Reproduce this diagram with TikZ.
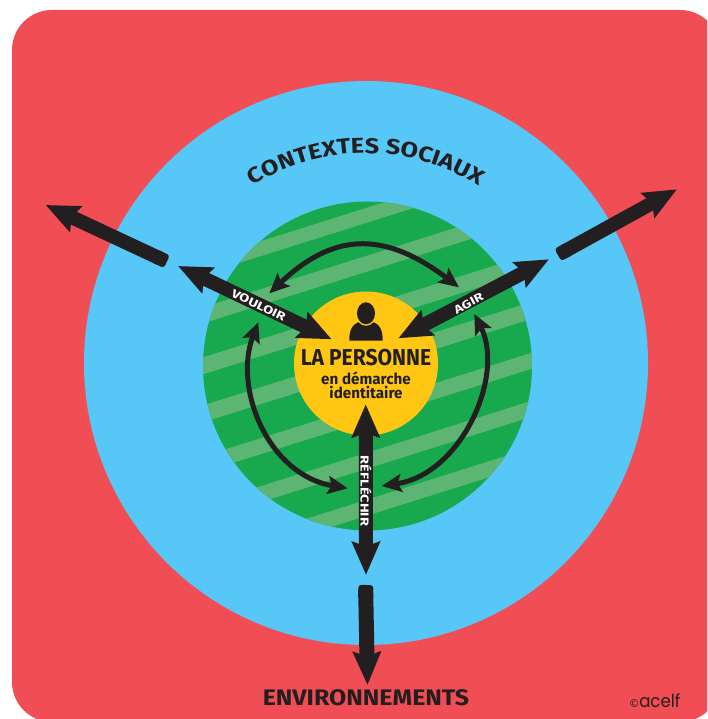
\documentclass[tikz,border=0pt]{standalone}
\usepackage{fontspec}
\setmainfont{Fira Sans}
\newfontfamily\persfont[FakeStretch=0.915]{Fira Sans}
\newfontfamily\armfont[FakeStretch=1.27]{Fira Sans}
\newfontfamily\titlefont[FakeStretch=1.11]{Fira Sans}
\newfontfamily\ctxfont[FakeStretch=1.18]{Fira Sans}
\newfontfamily\logofont[FakeStretch=0.92]{Poppins}
\newfontfamily\symfont{DejaVu Sans}
\usetikzlibrary{arrows.meta,decorations.text,shapes.geometric}
\definecolor{redbg}{HTML}{F04E54}
\definecolor{bluebg}{HTML}{57C7F7}
\definecolor{greenbg}{HTML}{18A94E}
\definecolor{stripe}{HTML}{5CB572}
\definecolor{yellowbg}{HTML}{FFC714}
\definecolor{ink}{HTML}{231F20}
\tikzset{
  disc/.style={circle,inner sep=0pt,outer sep=0pt},
  oval/.style={ellipse,inner sep=0pt,outer sep=0pt},
  bigtip/.tip={Stealth[length=33pt,width=27.5pt,inset=4.5pt]},
  smalltip/.tip={Stealth[length=20pt,width=18pt,inset=4pt]},
  bigarrow/.style={draw=ink,line width=14pt},
  thinarrow/.style={draw=ink,line width=5pt,{smalltip}-{smalltip}},
  stub/.style={rectangle,rounded corners=3pt,fill=ink,minimum width=14pt,minimum height=14pt,inner sep=0pt,outer sep=0pt},
  armlabel/.style={text=white,font=\armfont\fontsize{11.5}{12}\selectfont\bfseries,inner sep=0pt},
  title/.style={text=ink,font=\titlefont\fontsize{22.5}{24}\selectfont\bfseries,inner sep=0pt}
}
\begin{document}
\begin{tikzpicture}[x=1pt,y=-1pt]
\useasboundingbox (0,0) rectangle (707,719);
\clip (0,0) rectangle (707,719);
\fill[redbg,rounded corners=40pt] (12,10) rectangle (720,722);
\node[disc,fill=bluebg,minimum size=564pt] (blue) at (366,363) {};
\node[disc,fill=greenbg,minimum size=329pt] (green) at (367.5,366) {};
\begin{scope}
  \clip (367.5,366) circle[radius=164.5pt];
  \foreach \a/\b in {208/223,256/272,306/323,354/371,405/421,453/469,500/516}{
    \fill[stripe] (190,\a+55.44) -- (545,\a-56.4) -- (545,\b-56.4) -- (190,\b+55.44) -- cycle;
  }
\end{scope}
\node[disc,fill=yellowbg,minimum size=144pt] (yellow) at (366,363.5) {};
% person icon
\fill[ink] (349.3,340.7) -- (382.7,340.7) .. controls (383,328) and (378,321) .. (366,321) .. controls (354,321) and (349,328) .. (349.3,340.7) -- cycle;
\node[oval,fill=yellowbg,minimum width=21pt,minimum height=25pt] (halo) at (366,313.3) {};
\node[oval,fill=ink,minimum width=18pt,minimum height=22pt] (head) at (366,313.3) {};
% coordinates of arrows
\coordinate (vIn) at (331.7,339.3);
\coordinate (vOut) at (178,266);
\coordinate (aIn) at (398.3,338.3);
\coordinate (aOut) at (549,259.3);
\coordinate (rIn) at (365.7,404.3);
\coordinate (rOut) at (366,575);
\coordinate (lTip) at (45.6,205);
\coordinate (gTip) at (677,189.3);
\coordinate (bTip) at (367.5,685);
\node[stub,rotate=-25] (lBase) at (160.5,258.7) {};
\node[stub,rotate=29] (gBase) at (564,251.6) {};
\node[stub,rotate=-1,minimum width=15pt] (bBase) at (365.7,592) {};
% thin arcs
\coordinate (t1) at (269.3,293.3);
\coordinate (t2) at (459,287.3);
\coordinate (l1) at (258.3,322.3);
\coordinate (l2) at (347.7,488.3);
\coordinate (r1) at (474.3,314);
\coordinate (r2) at (381.7,486);
\draw[thinarrow] (t1) .. controls (332,234) and (382,229) .. (t2);
\draw[thinarrow] (l1) .. controls (233,388) and (268,475) .. (l2);
\draw[thinarrow] (r1) .. controls (505,375) and (462,474) .. (r2);
% big arrows
\draw[bigarrow,{bigtip}-{bigtip}] (vIn) -- (vOut);
\draw[bigarrow,{bigtip}-{bigtip}] (aIn) -- (aOut);
\draw[bigarrow,{bigtip}-{bigtip}] (rIn) -- (rOut);
\draw[bigarrow,-{bigtip}] (lBase.center) -- (lTip);
\draw[bigarrow,-{bigtip}] (gBase.center) -- (gTip);
\draw[bigarrow,line width=15pt,-{bigtip}] (bBase.center) -- (bTip);
% labels
\node[armlabel,rotate=-25.4] (vl) at (258.7,305) {VOULOIR};
\node[armlabel,rotate=27.6] (al) at (468.7,303.3) {AGIR};
\node[armlabel,rotate=-90] (rl) at (366,491) {RÉFLÉCHIR};
\node[text=ink,inner sep=0pt,font=\persfont\fontsize{23}{24}\selectfont\bfseries] (pers) at (366,358) {LA PERSONNE};
\node[text=ink,inner sep=0pt,align=center,font=\fontsize{15.2}{13.5}\selectfont\bfseries] (sub) at (366,385.5) {en démarche\\identitaire};
\node[title] (env) at (366,697.5) {ENVIRONNEMENTS};
\node[text=ink,inner sep=0pt,anchor=base east,font=\logofont\fontsize{18}{18}\selectfont] (logo) at (680.5,707) {acelf};
\node[text=ink,inner sep=0pt,anchor=base east,font=\symfont\fontsize{11}{11}\selectfont] (copy) at (640,707) {©};
\path[decorate,decoration={text along path,text align=center,
   text={|\ctxfont\fontsize{21.5}{22}\selectfont\bfseries\color{ink}|CONTEXTES SOCIAUX}}]
   (250.1,188) .. controls (320.4,141.5) and (411.6,141.5) .. (481.9,188);
\end{tikzpicture}
\end{document}
